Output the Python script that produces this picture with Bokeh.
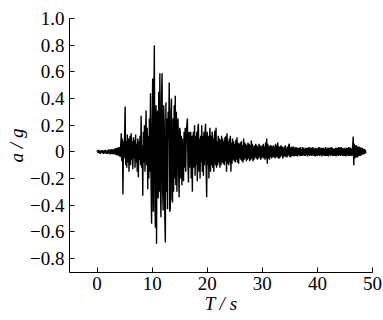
import numpy as np
from bokeh.plotting import figure
from bokeh.models import FixedTicker, Range1d
from bokeh.embed import file_html
from bokeh.resources import INLINE

# acceleration (g) read from the record, one value every 0.1 s starting at t = 0
dt = 0.1
accel = [
    0.00, 0.01, -0.01, 0.015, -0.01, 0.01, -0.015, 0.01, -0.005, 0.012,
    -0.012, 0.01, -0.015, 0.012, -0.01, 0.015, -0.012, 0.01, -0.015, 0.012,
    -0.015, 0.018, -0.012, 0.015, -0.02, 0.018, -0.015, 0.02, -0.018, 0.015,
    -0.02, 0.022, -0.018, 0.025, -0.022, 0.028, -0.025, 0.03, -0.028, 0.035,
    -0.03, 0.035, -0.04, 0.05, 0.14, -0.07, 0.10, -0.32, 0.08, -0.05,
    0.12, 0.34, -0.10, 0.08, -0.12, 0.13, -0.08, 0.10, -0.15, 0.06,
    0.12, -0.10, 0.14, -0.06, 0.08, -0.13, 0.11, -0.05, 0.09, -0.12,
    0.13, -0.08, 0.06, -0.15, 0.10, -0.19, 0.08, -0.06, 0.12, -0.10,
    0.27, -0.12, 0.05, -0.33, 0.15, -0.08, 0.20, -0.15, 0.10, 0.31,
    -0.10, 0.18, -0.28, 0.12, -0.20, 0.25, -0.15, 0.44, -0.22, -0.54,
    0.20, 0.55, -0.45, 0.30, 0.80, -0.40, -0.57, 0.35, -0.69, 0.25,
    0.31, -0.35, 0.45, -0.30, 0.59, -0.25, -0.49, 0.40, 0.59, -0.30,
    -0.44, 0.35, 0.20, -0.50, -0.68, 0.37, -0.30, 0.25, -0.43, 0.30,
    0.10, 0.52, -0.45, -0.42, 0.30, 0.40, -0.35, -0.38, 0.25, -0.30,
    0.35, -0.20, 0.42, -0.25, 0.30, -0.30, 0.20, 0.25, -0.15, -0.34,
    0.18, 0.15, -0.20, 0.12, -0.25, 0.10, -0.18, -0.22, 0.15, -0.12,
    0.18, -0.15, 0.12, 0.20, 0.25, -0.10, -0.23, 0.15, -0.12, 0.10,
    0.15, -0.20, 0.12, -0.30, 0.10, 0.15, -0.12, 0.20, -0.18, 0.12,
    -0.10, 0.15, -0.22, 0.18, 0.21, -0.15, 0.10, -0.20, 0.12, -0.08,
    0.20, -0.15, 0.12, -0.18, 0.15, -0.10, 0.14, 0.21, -0.12, -0.34,
    0.15, -0.10, 0.12, -0.20, 0.08, 0.18, -0.15, 0.12, -0.10, 0.15,
    -0.12, 0.10, -0.15, 0.12, 0.16, -0.10, 0.18, -0.12, 0.08, -0.10,
    0.12, -0.08, 0.10, -0.12, 0.09, -0.10, 0.12, -0.08, 0.10, -0.09,
    0.08, -0.10, 0.11, -0.07, 0.12, -0.15, 0.14, -0.09, 0.08, -0.10,
    0.10, -0.08, 0.12, -0.15, 0.07, -0.09, 0.10, -0.06, 0.08, -0.07,
    0.06, -0.08, 0.09, -0.06, 0.11, -0.08, 0.07, -0.09, 0.06, -0.05,
    0.07, -0.06, 0.08, -0.07, 0.05, -0.08, 0.10, -0.06, 0.07, -0.05,
    0.06, -0.07, 0.05, -0.06, 0.07, -0.05, 0.06, -0.07, 0.05, -0.06,
    0.085, -0.05, 0.06, -0.07, 0.04, -0.06, 0.05, -0.04, 0.06, -0.05,
    0.05, -0.06, 0.04, -0.05, 0.06, -0.04, 0.05, -0.06, 0.04, -0.05,
    0.05, -0.04, 0.06, -0.05, 0.04, -0.06, 0.07, -0.05, 0.10, -0.09,
    0.06, -0.05, 0.04, -0.06, 0.05, -0.04, 0.05, -0.05, 0.04, -0.04,
    0.05, -0.04, 0.04, -0.05, 0.06, -0.04, 0.05, -0.04, 0.07, -0.05,
    0.04, -0.05, 0.04, -0.04, 0.05, -0.03, 0.04, -0.05, 0.03, -0.04,
    0.04, -0.03, 0.05, -0.04, 0.03, -0.04, 0.04, -0.03, 0.05, 0.06,
    -0.04, 0.03, -0.04, 0.04, -0.03, 0.035, -0.03, 0.04, -0.035, 0.03,
    -0.03, 0.035, -0.03, 0.03, -0.035, 0.03, -0.025, 0.03, -0.03, 0.035,
    -0.03, 0.025, -0.03, 0.035, -0.025, 0.03, -0.03, 0.025, -0.03, 0.03,
    -0.025, 0.03, -0.035, 0.03, -0.025, 0.035, -0.03, 0.03, -0.025, 0.03,
    -0.03, 0.035, -0.025, 0.03, -0.03, 0.025, -0.035, 0.03, -0.03, 0.025,
    -0.03, 0.03, -0.025, 0.035, -0.03, 0.03, -0.025, 0.03, -0.035, 0.03,
    -0.025, 0.03, -0.03, 0.025, -0.03, 0.035, -0.03, 0.025, -0.03, 0.03,
    -0.035, 0.03, -0.025, 0.03, -0.03, 0.035, -0.025, 0.03, -0.03, 0.025,
    -0.03, 0.025, -0.03, 0.03, -0.035, 0.03, -0.025, 0.03, -0.03, 0.035,
    -0.025, 0.03, -0.03, 0.035, -0.025, 0.03, -0.03, 0.025, -0.03, 0.03,
    -0.03, 0.025, -0.035, 0.03, -0.025, 0.03, -0.03, 0.035, -0.03, 0.025,
    0.03, -0.03, 0.025, -0.03, 0.04, 0.115, -0.10, 0.06, -0.05, 0.05,
    -0.04, 0.05, -0.045, 0.04, -0.035, 0.04, -0.03, 0.035, -0.03, 0.03,
    -0.025, 0.03, -0.02, 0.025, -0.02, 0.02, -0.015, 0.015, -0.01,
]
time = np.arange(len(accel)) * dt

x_ticks = [0, 10, 20, 30, 40, 50]
y_ticks = [-0.8, -0.6, -0.4, -0.2, 0, 0.2, 0.4, 0.6, 0.8, 1.0]
y_tick_labels = {-0.8: "\u22120.8", -0.6: "\u22120.6", -0.4: "\u22120.4", -0.2: "\u22120.2",
                 0: "0", 0.2: "0.2", 0.4: "0.4", 0.6: "0.6", 0.8: "0.8", 1.0: "1.0"}

FONT = "Liberation Serif"

p = figure(width=383, height=320, output_backend="svg", toolbar_location=None,
           x_range=Range1d(-5, 50), y_range=Range1d(-0.905, 1.0))
p.min_border_left = 69
p.min_border_right = 11
p.min_border_top = 18
p.min_border_bottom = 48
p.outline_line_color = None
p.grid.grid_line_color = None
p.background_fill_color = "white"
p.border_fill_color = "white"

p.line(time, accel, line_color="black", line_width=1.4)

for ax in (p.xaxis[0], p.yaxis[0]):
    ax.major_tick_in = 5
    ax.major_tick_out = 0
    ax.minor_tick_line_color = None
    ax.axis_line_color = "black"
    ax.major_tick_line_color = "black"
    ax.major_label_text_font = FONT
    ax.major_label_text_font_size = "19px"
    ax.major_label_text_color = "black"
    ax.axis_label_text_font = FONT
    ax.axis_label_text_font_size = "19px"
    ax.axis_label_text_font_style = "italic"
    ax.axis_label_text_color = "black"

p.xaxis.ticker = FixedTicker(ticks=x_ticks)
p.yaxis.ticker = FixedTicker(ticks=y_ticks)
p.yaxis.major_label_overrides = y_tick_labels
p.xaxis.major_label_standoff = 4
p.yaxis.major_label_standoff = 5
p.xaxis.axis_label = "T / s"
p.yaxis.axis_label = "a / g"
p.xaxis.axis_label_standoff = 0
p.yaxis.axis_label_standoff = 0

open("out.html", "w").write(file_html(p, INLINE))
